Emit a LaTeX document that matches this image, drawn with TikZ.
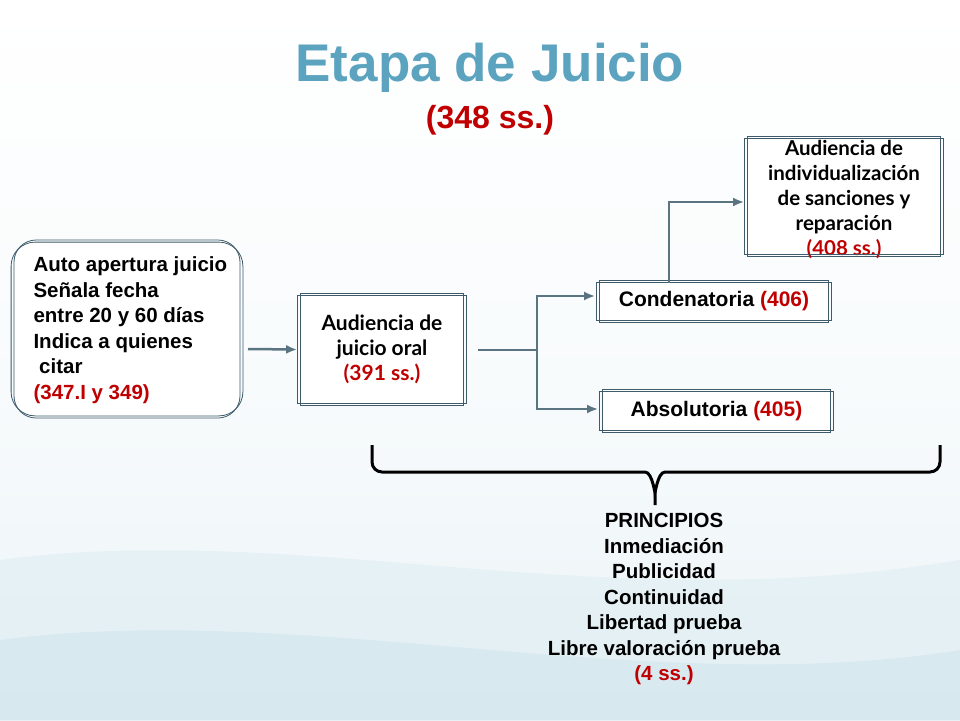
\documentclass[tikz,border=0pt]{standalone}
\usepackage{fontspec}
\setmainfont{Liberation Sans}
\newfontfamily\gill{Lato}
\usetikzlibrary{arrows.meta}
\definecolor{teal1}{HTML}{5BA3BE}
\definecolor{redc}{HTML}{C00000}
\definecolor{linec}{HTML}{3E5B6B}
\tikzset{
 dbox/.style={draw=linec, line width=0.8pt, fill=white, inner sep=0pt, align=center, font=\bfseries\fontsize{21}{25}\selectfont},
 outer/.style={draw=linec, line width=0.8pt},
 conn/.style={draw=linec!85, line width=2.5pt, -{Latex[length=11pt,width=9pt]}},
}
\begin{document}
\begin{tikzpicture}[x=1pt,y=-1pt]
\useasboundingbox (0,0) rectangle (960,720);
\shade[top color=white, bottom color=white!88!teal1, middle color=white!96!teal1] (0,0) rectangle (960,720);
\fill[white!80!teal1, opacity=0.6] (0,560) .. controls (300,520) and (600,620) .. (960,560) -- (960,720) -- (0,720) -- cycle;
\fill[white!70!teal1, opacity=0.5] (0,640) .. controls (300,600) and (650,700) .. (960,650) -- (960,720) -- (0,720) -- cycle;
\node[font=\bfseries\fontsize{53}{55}\selectfont, text=teal1] (title) at (490,68) {Etapa de Juicio};
\node[font=\bfseries\fontsize{32}{34}\selectfont, text=redc] (sub) at (490,120) {(348 ss.)};
\node[dbox, rounded corners=22pt, minimum width=226pt, minimum height=178pt] (auto) at (127,329) {};
\draw[outer, rounded corners=24pt] ([shift={(-2.5pt,2.5pt)}]auto.south west) rectangle ([shift={(2.5pt,-2.5pt)}]auto.north east);
\node[anchor=west, align=left, font=\bfseries\fontsize{20.5}{25.5}\selectfont] (autot) at (30,330) {Auto apertura juicio\\Señala fecha\\entre 20 y 60 días\\Indica a quienes\\\ citar\\\textcolor{redc}{(347.I y 349)}};
\node[dbox, minimum width=163pt, minimum height=112pt, font=\gill\bfseries\fontsize{21}{25}\selectfont] (oral) at (382,349.5) {Audiencia de\\juicio oral\\\textcolor{redc}{(391 ss.)}};
\node[dbox, minimum width=229pt, minimum height=42pt] (cond) at (714,301.5) {Condenatoria \textcolor{redc}{(406)}};
\node[dbox, minimum width=228pt, minimum height=43pt] (abs) at (716.5,411) {Absolutoria \textcolor{redc}{(405)}};
\node[dbox, minimum width=193pt, minimum height=120pt] (ind) at (844,196.5) {};
\node[align=center, font=\gill\bfseries\fontsize{20.5}{25}\selectfont] (indt) at (844,199) {Audiencia de\\individualización\\de sanciones y\\reparación\\\textcolor{redc}{(408 ss.)}};
\foreach \n in {oral,cond,abs,ind}
  \draw[outer] ([shift={(-2.5pt,2.5pt)}]\n.south west) rectangle ([shift={(2.5pt,-2.5pt)}]\n.north east);
\draw[conn] (248,349) -- ([xshift=-3pt]oral.west);
\coordinate (sp) at (537,350);
\draw[linec!85, line width=2.5pt] (478,350) -- (sp);
\draw[conn] (sp) |- ([xshift=-4pt]cond.west|-0,296);
\draw[conn] (sp) |- ([xshift=-4pt]abs.west|-0,409);
\draw[conn] ([yshift=-3pt]cond.north-|669,0) |- ([xshift=-3pt]ind.west|-0,202);
\draw[black, line width=3pt] (372,445) -- (372,462) to[out=-90,in=180] (382,472) -- (645,472) to[out=0,in=-90] (655,490) -- (655,505);
\draw[black, line width=3pt] (940,445) -- (940,462) to[out=-90,in=0] (930,472) -- (665,472) to[out=180,in=-90] (655,490);
\node[align=center, font=\bfseries\fontsize{20.5}{25.5}\selectfont] (pr) at (664,599) {PRINCIPIOS\\Inmediación\\Publicidad\\Continuidad\\Libertad prueba\\Libre valoración prueba\\\textcolor{redc}{(4 ss.)}};
\end{tikzpicture}
\end{document}
